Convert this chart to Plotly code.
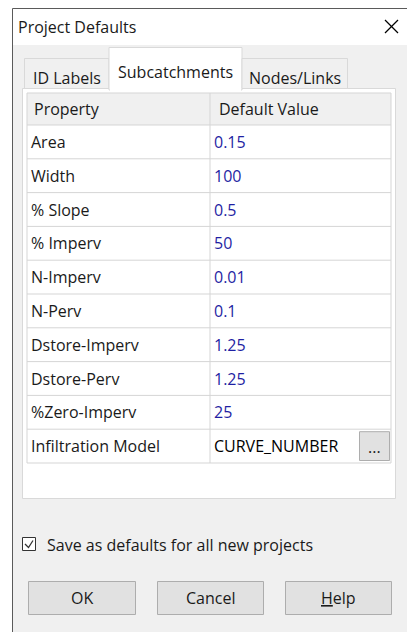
import plotly.graph_objects as go

# ---- data ----
title = "Project Defaults"
tabs = ["ID Labels", "Subcatchments", "Nodes/Links"]
active_tab = "Subcatchments"
columns = ["Property", "Default Value"]
properties = ["Area", "Width", "% Slope", "% Imperv", "N-Imperv", "N-Perv",
              "Dstore-Imperv", "Dstore-Perv", "%Zero-Imperv", "Infiltration Model"]
values = ["0.15", "100", "0.5", "50", "0.01", "0.1", "1.25", "1.25", "25", "CURVE_NUMBER"]
value_colors = ["#1f1fa3"] * 9 + ["#000000"]
checkbox_label = "Save as defaults for all new projects"
buttons = ["OK", "Cancel", "<u>H</u>elp"]

# ---- layout constants (pixels) ----
W, H = 407, 632
FONT = "Open Sans"
FS = 16
GRID_L, GRID_R, COL_SPLIT = 27, 391, 210
HEAD_T, HEAD_B = 93, 125
ROW_H = 33.8
LINE = "#d5d5d5"
TXT = "#1a1a1a"

shapes = []
ann = []

def rect(x0, y0, x1, y1, fill, line=None, lw=1):
    shapes.append(dict(type="rect", x0=x0, y0=y0, x1=x1, y1=y1, xref="x", yref="y",
                       fillcolor=fill, line=dict(color=line or fill, width=lw if line else 0),
                       layer="below"))

def hline(x0, x1, y, color=LINE):
    shapes.append(dict(type="line", x0=x0, x1=x1, y0=y, y1=y, xref="x", yref="y",
                       line=dict(color=color, width=1), layer="below"))

def vline(x, y0, y1, color=LINE):
    shapes.append(dict(type="line", x0=x, x1=x, y0=y0, y1=y1, xref="x", yref="y",
                       line=dict(color=color, width=1), layer="below"))

def text(x, y, s, color=TXT, anchor="left", size=FS):
    ann.append(dict(x=x, y=y, xref="x", yref="y", text=s, showarrow=False,
                    xanchor=anchor, yanchor="middle",
                    font=dict(family=FONT, size=size, color=color)))

# dialog body
rect(12.5, 8.5, 420, 640, "#f0f0f0", "#5a5a5a")
rect(13, 9, 420, 45, "#ffffff")
text(16, 27, title)
# close X
shapes.append(dict(type="line", x0=385, y0=20, x1=398, y1=33, xref="x", yref="y",
                   line=dict(color="#000000", width=1.2)))
shapes.append(dict(type="line", x0=385, y0=33, x1=398, y1=20, xref="x", yref="y",
                   line=dict(color="#000000", width=1.2)))

# tab panel
rect(22.5, 88.5, 395.5, 498.5, "#ffffff", "#d9d9d9")
# tabs
tab_x = [(24.5, 109), (109, 242), (242, 347.5)]
for (x0, x1), name in zip(tab_x, tabs):
    if name == active_tab:
        rect(x0, 47.5, x1, 90, "#ffffff", "#d9d9d9")
        rect(x0 + 1, 87, x1 - 1, 91, "#ffffff")
        text((x0 + x1) / 2, 72, name, anchor="center")
    else:
        rect(x0, 58.5, x1, 88.5, "#f0f0f0", "#d9d9d9")
        text((x0 + x1) / 2, 78, name, anchor="center")

# grid header
n = len(properties)
grid_bottom = HEAD_B + n * ROW_H
rect(GRID_L, HEAD_T, GRID_R, HEAD_B, "#f0f0f0")
vline(GRID_L, HEAD_T, grid_bottom)
vline(GRID_R, HEAD_T, grid_bottom)
vline(COL_SPLIT, HEAD_T, grid_bottom)
hline(GRID_L, GRID_R, HEAD_T)
hline(GRID_L, GRID_R, HEAD_B)
text(GRID_L + 5, (HEAD_T + HEAD_B) / 2, columns[0])
text(COL_SPLIT + 7, (HEAD_T + HEAD_B) / 2, columns[1])

for i, (p, v, c) in enumerate(zip(properties, values, value_colors)):
    y0 = HEAD_B + i * ROW_H
    y1 = y0 + ROW_H
    hline(GRID_L, GRID_R, y1)
    text(GRID_L + 2, (y0 + y1) / 2, p)
    text(COL_SPLIT + 2, (y0 + y1) / 2, v, color=c)

# "..." button on last row
yb0 = HEAD_B + (n - 1) * ROW_H
rect(359.5, yb0 + 2.5, 389.5, yb0 + ROW_H - 2.5, "#e1e1e1", "#adadad")
text(374.5, yb0 + ROW_H / 2 + 1, "...", anchor="center")

# checkbox
rect(22.5, 537.5, 35.5, 550.5, "#ffffff", "#333333")
shapes.append(dict(type="path", path="M 25 544 L 28.5 547.5 L 33 540.5", xref="x", yref="y",
                   line=dict(color="#333333", width=1.3)))
text(45, 544.5, checkbox_label)

# buttons
btn_x = [(28.5, 135.5), (157.5, 263.5), (285.5, 391.5)]
for (x0, x1), b in zip(btn_x, buttons):
    rect(x0, 581.5, x1, 614.5, "#e1e1e1", "#adadad")
    text((x0 + x1) / 2, 598, b, anchor="center")

fig = go.Figure()
fig.update_layout(
    width=W, height=H, margin=dict(l=0, r=0, t=0, b=0),
    paper_bgcolor="#ffffff", plot_bgcolor="#ffffff",
    xaxis=dict(range=[0, W], visible=False, fixedrange=True),
    yaxis=dict(range=[H, 0], visible=False, fixedrange=True),
    shapes=shapes, annotations=ann, showlegend=False,
)
fig.write_html("out.html", config={"displayModeBar": False},
               post_script="document.body.style.margin='0';document.body.style.overflow='hidden';")
